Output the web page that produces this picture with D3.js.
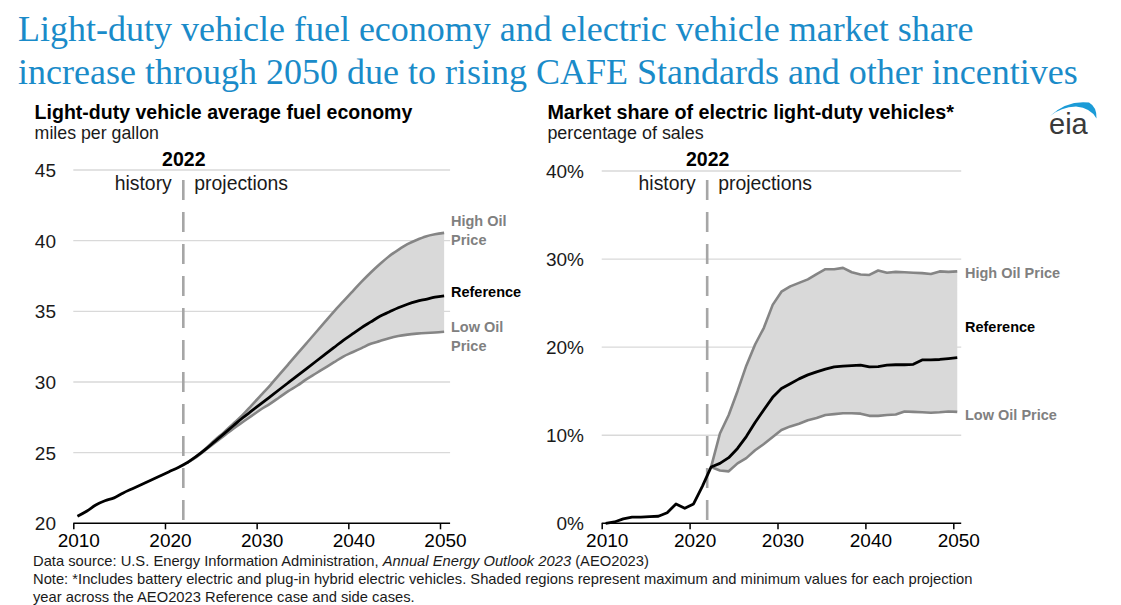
<!DOCTYPE html>
<html><head><meta charset="utf-8">
<script src="https://cdn.jsdelivr.net/npm/d3@7"></script>
<style>
html,body{margin:0;padding:0;background:#fff;}
svg{display:block;}
text{font-family:"Liberation Sans",Arial,sans-serif;}
</style></head>
<body>
<svg id="c" width="1121" height="605"></svg>
<script>
// ---------- data ----------
const histYears = [2010,2011,2012,2013,2014,2015,2016,2017,2018,2019,2020,2021,2022];
const projYears = [2022,2023,2024,2025,2026,2027,2028,2029,2030,2031,2032,2033,2034,2035,2036,2037,2038,2039,2040,2041,2042,2043,2044,2045,2046,2047,2048,2049,2050];
const xTicks = [2010,2020,2030,2040,2050];
const mpgTicks = [20,25,30,35,40,45];
const evTicks = [0,10,20,30,40];

// fuel economy (mpg), 2010-2050
const mpgRef = [20.5,20.85,21.3,21.6,21.8,22.15,22.45,22.75,23.05,23.35,23.65,23.95,24.3,
  24.75,25.25,25.8,26.35,26.9,27.45,27.95,28.45,28.95,29.45,29.95,30.45,30.95,31.45,31.95,32.45,32.95,33.4,33.85,34.25,34.65,34.95,35.25,35.5,35.7,35.85,36.0,36.1];
// 2022-2050
const mpgHigh = [24.3,24.75,25.3,25.9,26.45,27.05,27.65,28.35,29.05,29.75,30.5,31.25,32.0,32.75,33.5,34.25,35.0,35.7,36.4,37.1,37.75,38.35,38.9,39.35,39.75,40.05,40.3,40.45,40.55];
const mpgLow  = [24.3,24.7,25.2,25.7,26.2,26.7,27.15,27.6,28.05,28.45,28.9,29.35,29.75,30.2,30.6,31.0,31.4,31.8,32.1,32.4,32.7,32.9,33.1,33.25,33.35,33.42,33.47,33.5,33.55];

// EV market share (% of sales), 2010-2050
const evRef = [0.0,0.15,0.5,0.7,0.7,0.75,0.8,1.2,2.2,1.7,2.2,4.2,6.4,
  6.8,7.45,8.5,9.85,11.45,12.9,14.3,15.3,15.85,16.4,16.85,17.2,17.5,17.75,17.85,17.9,17.95,17.75,17.8,17.95,18.0,18.0,18.05,18.55,18.55,18.6,18.7,18.8];
// 2022-2050
const evHigh = [6.4,10.2,12.3,15.0,17.9,20.3,22.2,24.8,26.3,26.9,27.3,27.7,28.3,28.85,28.85,29.0,28.5,28.25,28.2,28.7,28.45,28.55,28.5,28.45,28.4,28.3,28.6,28.55,28.6];
const evLow  = [6.4,6.0,5.9,6.8,7.4,8.3,9.0,9.8,10.6,11.0,11.3,11.7,11.95,12.3,12.4,12.5,12.5,12.45,12.2,12.2,12.3,12.35,12.7,12.65,12.6,12.55,12.6,12.7,12.65];

const allYears = histYears.concat(projYears.slice(1));

// ---------- drawing ----------
const svg = d3.select("#c");
const FONT = '"Liberation Sans",Arial,sans-serif';

function fit(sel, target){
  const w = sel.node().getComputedTextLength();
  const fs = parseFloat(sel.style("font-size"));
  const nfs = fs * target / w;
  sel.style("font-size", nfs + "px");
  return nfs;
}

svg.append("g").selectAll("text")
  .data(["Light-duty vehicle fuel economy and electric vehicle market share",
         "increase through 2050 due to rising CAFE Standards and other incentives"])
  .join("text")
  .attr("x", 18).attr("y", (d,i)=> 41 + i*43)
  .style("font-family", '"Liberation Serif","Times New Roman",serif')
  .style("font-size", "36px").attr("fill", "#1a8bc9")
  .text(d=>d);

function panel(cfg){
  const g = svg.append("g");
  const x = d3.scaleLinear().domain([2010,2050]).range([cfg.x0, cfg.x1]);
  const y = d3.scaleLinear().domain(cfg.yDomain).range([523.3, cfg.yTop]);
  const xEnd = x(cfg.axisEnd);
  const off = 0.45;

  // titles
  const t1 = g.append("text").attr("x", cfg.tx).attr("y", 119).style("font-size","19.5px")
    .style("font-weight","bold").attr("fill","#000").text(cfg.title);
  fit(t1, cfg.titleW);
  const t2 = g.append("text").attr("x", cfg.tx).attr("y", 139).style("font-size","17.8px")
    .attr("fill","#1a1a1a").text(cfg.sub);
  fit(t2, cfg.subW);

  // gridlines + y labels
  const yAxis = d3.axisLeft(y).tickValues(cfg.yTicks).tickSize(0).tickPadding(0).tickFormat(cfg.fmt);
  const ya = g.append("g").attr("transform",`translate(${cfg.labelRight},0)`).call(yAxis);
  ya.select(".domain").remove();
  ya.selectAll("text").style("font-size","19px").style("font-family",FONT).attr("fill","#1a1a1a").attr("dy","0.35em");
  g.append("g").selectAll("line").data(cfg.yTicks.slice(1)).join("line")
    .attr("x1", cfg.x0).attr("x2", xEnd).attr("y1", d=>y(d)).attr("y2", d=>y(d))
    .attr("stroke","#d9d9d9").attr("stroke-width",1.3);

  // band
  const bandData = projYears.map((yr,i)=>({yr, hi: Math.max(cfg.high[i],cfg.low[i]), lo: Math.min(cfg.high[i],cfg.low[i])}));
  g.append("path").datum(bandData)
    .attr("d", d3.area().curve(cfg.curve).x(d=>x(d.yr+off)).y0(d=>y(d.lo)).y1(d=>y(d.hi)))
    .attr("fill","#d9d9d9");

  // dashed 2022 line
  const xd = x(2022);
  g.append("line").attr("x1",xd).attr("x2",xd).attr("y1",180).attr("y2",523)
    .attr("stroke","#a6a6a6").attr("stroke-width",2.6).attr("stroke-dasharray","20,12");
  g.append("text").attr("x",xd+0.5).attr("y",166).attr("text-anchor","middle")
    .style("font-size","19.5px").style("font-weight","bold").text("2022");
  g.append("text").attr("x",xd-11.5).attr("y",190).attr("text-anchor","end")
    .style("font-size","19.4px").attr("fill","#1a1a1a").text("history");
  g.append("text").attr("x",xd+11).attr("y",190)
    .style("font-size","19.4px").attr("fill","#1a1a1a").text("projections");

  // lines
  const line = d3.line().curve(cfg.curve).x(d=>x(d[0]+off)).y(d=>y(d[1]));
  const grayCol = "#858585";
  g.append("path").datum(projYears.map((yr,i)=>[yr,cfg.high[i]])).attr("d",line)
    .attr("fill","none").attr("stroke",grayCol).attr("stroke-width",2.6).attr("stroke-linejoin","round");
  g.append("path").datum(projYears.map((yr,i)=>[yr,cfg.low[i]])).attr("d",line)
    .attr("fill","none").attr("stroke",grayCol).attr("stroke-width",2.6).attr("stroke-linejoin","round");
  g.append("path").datum(allYears.map((yr,i)=>[yr,cfg.ref[i]])).attr("d",line)
    .attr("fill","none").attr("stroke","#000").attr("stroke-width",2.8).attr("stroke-linejoin","round");

  // x axis
  const xa = g.append("g").attr("transform","translate(0,523.3)")
    .call(d3.axisBottom(x).tickValues(xTicks).tickFormat(d3.format("d")).tickSize(6).tickSizeOuter(0).tickPadding(4));
  xa.select(".domain").remove();
  xa.selectAll(".tick line").attr("stroke","#000").attr("stroke-width",1.5);
  xa.selectAll("text").style("font-size","19px").style("font-family",FONT).attr("fill","#000").attr("dx","5");
  g.append("line").attr("x1",cfg.x0).attr("x2",xEnd).attr("y1",523.3).attr("y2",523.3)
    .attr("stroke","#000").attr("stroke-width",1.6);

  // series labels
  const lab = g.append("g").style("font-size","14.5px").style("font-weight","bold");
  cfg.labels.forEach(l=>{
    const t = lab.append("text").attr("x", cfg.labelX).attr("y", l.y).attr("fill", l.c);
    l.lines.forEach((s,i)=> t.append("tspan").attr("x",cfg.labelX).attr("dy", i===0?0:19).text(s));
  });
}

panel({
  x0:73.3, x1:440, axisEnd:2051.1, yDomain:[20,45], yTop:170, yTicks:mpgTicks, fmt:d3.format("d"),
  labelRight:56, tx:34.6, titleW:378, subW:124.3, curve:d3.curveMonotoneX,
  title:"Light-duty vehicle average fuel economy", sub:"miles per gallon",
  ref:mpgRef, high:mpgHigh, low:mpgLow, labelX:451,
  labels:[{y:226,c:"#808080",lines:["High Oil","Price"]},
          {y:297,c:"#000",lines:["Reference"]},
          {y:332,c:"#808080",lines:["Low Oil","Price"]}]
});
panel({
  x0:601.7, x1:953.3, axisEnd:2050.9, yDomain:[0,40], yTop:171, yTicks:evTicks, fmt:d=>d+"%",
  labelRight:584, tx:547.4, titleW:406.6, subW:156.2, curve:d3.curveLinear,
  title:"Market share of electric light-duty vehicles*", sub:"percentage of sales",
  ref:evRef, high:evHigh, low:evLow, labelX:965,
  labels:[{y:278,c:"#808080",lines:["High Oil Price"]},
          {y:332,c:"#000",lines:["Reference"]},
          {y:420,c:"#808080",lines:["Low Oil Price"]}]
});

// footer
const foot = svg.append("g").style("font-size","14px").attr("fill","#1a1a1a");
const note = foot.append("text").attr("x",33).attr("y",584)
  .text("Note: *Includes battery electric and plug-in hybrid electric vehicles. Shaded regions represent maximum and minimum values for each projection");
const fs = fit(note, 940);
foot.style("font-size", fs + "px");
note.style("font-size", null);
const f1 = foot.append("text").attr("x",33).attr("y",566);
f1.append("tspan").text("Data source: U.S. Energy Information Administration, ");
f1.append("tspan").style("font-style","italic").text("Annual Energy Outlook 2023");
f1.append("tspan").text(" (AEO2023)");
foot.append("text").attr("x",33).attr("y",602)
  .text("year across the AEO2023 Reference case and side cases.");

// eia logo
const logo = svg.append("g");
logo.append("path")
  .attr("d","M1050,116 Q1067,100 1089,102.5 Q1097,107 1096.5,118.5 Q1091,108 1076,106.5 Q1061,107 1050,116 Z")
  .attr("fill","#1b9bd7");
logo.append("text").attr("x",1049).attr("y",134).style("font-size","29px")
  .attr("fill","#3a3a3a").text("eia");
</script>
</body></html>
